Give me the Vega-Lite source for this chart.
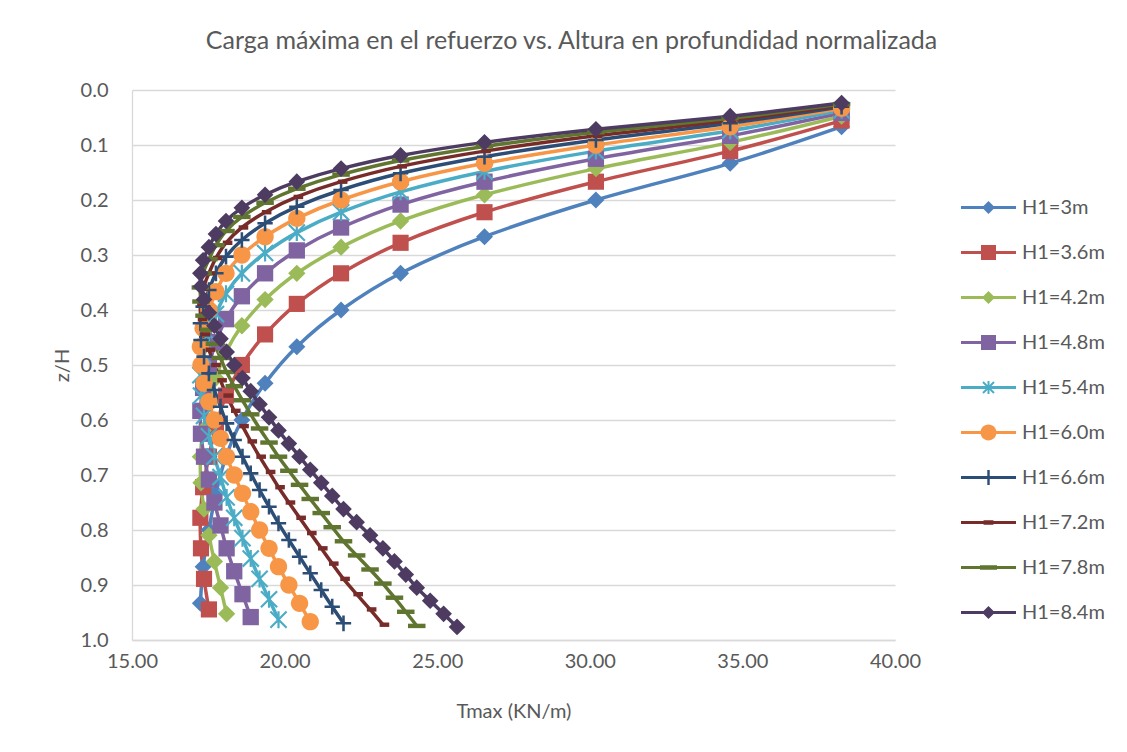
{
  "$schema": "https://vega.github.io/schema/vega-lite/v6.json",
  "width": 763,
  "height": 550,
  "autosize": {"type": "none"},
  "padding": {"left": 132, "top": 90, "right": 232, "bottom": 112},
  "background": "white",
  "title": {
    "text": "Carga máxima en el refuerzo vs. Altura en profundidad normalizada",
    "font": "Lato",
    "fontSize": 25,
    "fontWeight": "normal",
    "color": "#595959",
    "anchor": "middle",
    "baseline": "alphabetic",
    "dx": 58,
    "offset": 6
  },
  "config": {
    "view": {"stroke": null},
    "font": "Lato",
    "axis": {
      "labelFont": "Lato",
      "labelFontSize": 20,
      "labelColor": "#595959",
      "labelFlush": false,
      "titleFont": "Lato",
      "titleFontSize": 20,
      "titleFontWeight": "normal",
      "titleColor": "#595959",
      "ticks": false,
      "tickSize": 0,
      "domainColor": "#D9D9D9",
      "domainWidth": 1.3,
      "gridColor": "#D9D9D9",
      "gridWidth": 1.3
    }
  },
  "data": {
    "values": [
      {"s": "H1=3m", "zh": 0.0667, "t": 38.25},
      {"s": "H1=3m", "zh": 0.1333, "t": 34.6},
      {"s": "H1=3m", "zh": 0.2, "t": 30.2},
      {"s": "H1=3m", "zh": 0.2667, "t": 26.55},
      {"s": "H1=3m", "zh": 0.3333, "t": 23.8},
      {"s": "H1=3m", "zh": 0.4, "t": 21.85},
      {"s": "H1=3m", "zh": 0.4667, "t": 20.4},
      {"s": "H1=3m", "zh": 0.5333, "t": 19.36},
      {"s": "H1=3m", "zh": 0.6, "t": 18.6},
      {"s": "H1=3m", "zh": 0.6667, "t": 18.08},
      {"s": "H1=3m", "zh": 0.7333, "t": 17.75},
      {"s": "H1=3m", "zh": 0.8, "t": 17.52},
      {"s": "H1=3m", "zh": 0.8667, "t": 17.33},
      {"s": "H1=3m", "zh": 0.9333, "t": 17.24},

      {"s": "H1=3.6m", "zh": 0.0556, "t": 38.25},
      {"s": "H1=3.6m", "zh": 0.1111, "t": 34.6},
      {"s": "H1=3.6m", "zh": 0.1667, "t": 30.2},
      {"s": "H1=3.6m", "zh": 0.2222, "t": 26.55},
      {"s": "H1=3.6m", "zh": 0.2778, "t": 23.8},
      {"s": "H1=3.6m", "zh": 0.3333, "t": 21.85},
      {"s": "H1=3.6m", "zh": 0.3889, "t": 20.4},
      {"s": "H1=3.6m", "zh": 0.4444, "t": 19.36},
      {"s": "H1=3.6m", "zh": 0.5, "t": 18.6},
      {"s": "H1=3.6m", "zh": 0.5556, "t": 18.08},
      {"s": "H1=3.6m", "zh": 0.6111, "t": 17.75},
      {"s": "H1=3.6m", "zh": 0.6667, "t": 17.52},
      {"s": "H1=3.6m", "zh": 0.7222, "t": 17.33},
      {"s": "H1=3.6m", "zh": 0.7778, "t": 17.24},
      {"s": "H1=3.6m", "zh": 0.8333, "t": 17.26},
      {"s": "H1=3.6m", "zh": 0.8889, "t": 17.36},
      {"s": "H1=3.6m", "zh": 0.9444, "t": 17.52},

      {"s": "H1=4.2m", "zh": 0.0476, "t": 38.25},
      {"s": "H1=4.2m", "zh": 0.0952, "t": 34.6},
      {"s": "H1=4.2m", "zh": 0.1429, "t": 30.2},
      {"s": "H1=4.2m", "zh": 0.1905, "t": 26.55},
      {"s": "H1=4.2m", "zh": 0.2381, "t": 23.8},
      {"s": "H1=4.2m", "zh": 0.2857, "t": 21.85},
      {"s": "H1=4.2m", "zh": 0.3333, "t": 20.4},
      {"s": "H1=4.2m", "zh": 0.381, "t": 19.36},
      {"s": "H1=4.2m", "zh": 0.4286, "t": 18.6},
      {"s": "H1=4.2m", "zh": 0.4762, "t": 18.08},
      {"s": "H1=4.2m", "zh": 0.5238, "t": 17.75},
      {"s": "H1=4.2m", "zh": 0.5714, "t": 17.52},
      {"s": "H1=4.2m", "zh": 0.619, "t": 17.33},
      {"s": "H1=4.2m", "zh": 0.6667, "t": 17.24},
      {"s": "H1=4.2m", "zh": 0.7143, "t": 17.26},
      {"s": "H1=4.2m", "zh": 0.7619, "t": 17.36},
      {"s": "H1=4.2m", "zh": 0.8095, "t": 17.52},
      {"s": "H1=4.2m", "zh": 0.8571, "t": 17.7},
      {"s": "H1=4.2m", "zh": 0.9048, "t": 17.9},
      {"s": "H1=4.2m", "zh": 0.9524, "t": 18.1},

      {"s": "H1=4.8m", "zh": 0.0417, "t": 38.25},
      {"s": "H1=4.8m", "zh": 0.0833, "t": 34.6},
      {"s": "H1=4.8m", "zh": 0.125, "t": 30.2},
      {"s": "H1=4.8m", "zh": 0.1667, "t": 26.55},
      {"s": "H1=4.8m", "zh": 0.2083, "t": 23.8},
      {"s": "H1=4.8m", "zh": 0.25, "t": 21.85},
      {"s": "H1=4.8m", "zh": 0.2917, "t": 20.4},
      {"s": "H1=4.8m", "zh": 0.3333, "t": 19.36},
      {"s": "H1=4.8m", "zh": 0.375, "t": 18.6},
      {"s": "H1=4.8m", "zh": 0.4167, "t": 18.08},
      {"s": "H1=4.8m", "zh": 0.4583, "t": 17.75},
      {"s": "H1=4.8m", "zh": 0.5, "t": 17.52},
      {"s": "H1=4.8m", "zh": 0.5417, "t": 17.33},
      {"s": "H1=4.8m", "zh": 0.5833, "t": 17.24},
      {"s": "H1=4.8m", "zh": 0.625, "t": 17.26},
      {"s": "H1=4.8m", "zh": 0.6667, "t": 17.36},
      {"s": "H1=4.8m", "zh": 0.7083, "t": 17.52},
      {"s": "H1=4.8m", "zh": 0.75, "t": 17.7},
      {"s": "H1=4.8m", "zh": 0.7917, "t": 17.9},
      {"s": "H1=4.8m", "zh": 0.8333, "t": 18.1},
      {"s": "H1=4.8m", "zh": 0.875, "t": 18.35},
      {"s": "H1=4.8m", "zh": 0.9167, "t": 18.62},
      {"s": "H1=4.8m", "zh": 0.9583, "t": 18.89},

      {"s": "H1=5.4m", "zh": 0.037, "t": 38.25},
      {"s": "H1=5.4m", "zh": 0.0741, "t": 34.6},
      {"s": "H1=5.4m", "zh": 0.1111, "t": 30.2},
      {"s": "H1=5.4m", "zh": 0.1481, "t": 26.55},
      {"s": "H1=5.4m", "zh": 0.1852, "t": 23.8},
      {"s": "H1=5.4m", "zh": 0.2222, "t": 21.85},
      {"s": "H1=5.4m", "zh": 0.2593, "t": 20.4},
      {"s": "H1=5.4m", "zh": 0.2963, "t": 19.36},
      {"s": "H1=5.4m", "zh": 0.3333, "t": 18.6},
      {"s": "H1=5.4m", "zh": 0.3704, "t": 18.08},
      {"s": "H1=5.4m", "zh": 0.4074, "t": 17.75},
      {"s": "H1=5.4m", "zh": 0.4444, "t": 17.52},
      {"s": "H1=5.4m", "zh": 0.4815, "t": 17.33},
      {"s": "H1=5.4m", "zh": 0.5185, "t": 17.24},
      {"s": "H1=5.4m", "zh": 0.5556, "t": 17.26},
      {"s": "H1=5.4m", "zh": 0.5926, "t": 17.36},
      {"s": "H1=5.4m", "zh": 0.6296, "t": 17.52},
      {"s": "H1=5.4m", "zh": 0.6667, "t": 17.7},
      {"s": "H1=5.4m", "zh": 0.7037, "t": 17.9},
      {"s": "H1=5.4m", "zh": 0.7407, "t": 18.1},
      {"s": "H1=5.4m", "zh": 0.7778, "t": 18.35},
      {"s": "H1=5.4m", "zh": 0.8148, "t": 18.62},
      {"s": "H1=5.4m", "zh": 0.8519, "t": 18.89},
      {"s": "H1=5.4m", "zh": 0.8889, "t": 19.18},
      {"s": "H1=5.4m", "zh": 0.9259, "t": 19.49},
      {"s": "H1=5.4m", "zh": 0.963, "t": 19.8},

      {"s": "H1=6.0m", "zh": 0.0333, "t": 38.25},
      {"s": "H1=6.0m", "zh": 0.0667, "t": 34.6},
      {"s": "H1=6.0m", "zh": 0.1, "t": 30.2},
      {"s": "H1=6.0m", "zh": 0.1333, "t": 26.55},
      {"s": "H1=6.0m", "zh": 0.1667, "t": 23.8},
      {"s": "H1=6.0m", "zh": 0.2, "t": 21.85},
      {"s": "H1=6.0m", "zh": 0.2333, "t": 20.4},
      {"s": "H1=6.0m", "zh": 0.2667, "t": 19.36},
      {"s": "H1=6.0m", "zh": 0.3, "t": 18.6},
      {"s": "H1=6.0m", "zh": 0.3333, "t": 18.08},
      {"s": "H1=6.0m", "zh": 0.3667, "t": 17.75},
      {"s": "H1=6.0m", "zh": 0.4, "t": 17.52},
      {"s": "H1=6.0m", "zh": 0.4333, "t": 17.33},
      {"s": "H1=6.0m", "zh": 0.4667, "t": 17.24},
      {"s": "H1=6.0m", "zh": 0.5, "t": 17.26},
      {"s": "H1=6.0m", "zh": 0.5333, "t": 17.36},
      {"s": "H1=6.0m", "zh": 0.5667, "t": 17.52},
      {"s": "H1=6.0m", "zh": 0.6, "t": 17.7},
      {"s": "H1=6.0m", "zh": 0.6333, "t": 17.9},
      {"s": "H1=6.0m", "zh": 0.6667, "t": 18.1},
      {"s": "H1=6.0m", "zh": 0.7, "t": 18.35},
      {"s": "H1=6.0m", "zh": 0.7333, "t": 18.62},
      {"s": "H1=6.0m", "zh": 0.7667, "t": 18.89},
      {"s": "H1=6.0m", "zh": 0.8, "t": 19.18},
      {"s": "H1=6.0m", "zh": 0.8333, "t": 19.49},
      {"s": "H1=6.0m", "zh": 0.8667, "t": 19.8},
      {"s": "H1=6.0m", "zh": 0.9, "t": 20.14},
      {"s": "H1=6.0m", "zh": 0.9333, "t": 20.49},
      {"s": "H1=6.0m", "zh": 0.9667, "t": 20.84},

      {"s": "H1=6.6m", "zh": 0.0303, "t": 38.25},
      {"s": "H1=6.6m", "zh": 0.0606, "t": 34.6},
      {"s": "H1=6.6m", "zh": 0.0909, "t": 30.2},
      {"s": "H1=6.6m", "zh": 0.1212, "t": 26.55},
      {"s": "H1=6.6m", "zh": 0.1515, "t": 23.8},
      {"s": "H1=6.6m", "zh": 0.1818, "t": 21.85},
      {"s": "H1=6.6m", "zh": 0.2121, "t": 20.4},
      {"s": "H1=6.6m", "zh": 0.2424, "t": 19.36},
      {"s": "H1=6.6m", "zh": 0.2727, "t": 18.6},
      {"s": "H1=6.6m", "zh": 0.303, "t": 18.08},
      {"s": "H1=6.6m", "zh": 0.3333, "t": 17.75},
      {"s": "H1=6.6m", "zh": 0.3636, "t": 17.52},
      {"s": "H1=6.6m", "zh": 0.3939, "t": 17.33},
      {"s": "H1=6.6m", "zh": 0.4242, "t": 17.24},
      {"s": "H1=6.6m", "zh": 0.4545, "t": 17.26},
      {"s": "H1=6.6m", "zh": 0.4848, "t": 17.36},
      {"s": "H1=6.6m", "zh": 0.5152, "t": 17.52},
      {"s": "H1=6.6m", "zh": 0.5455, "t": 17.7},
      {"s": "H1=6.6m", "zh": 0.5758, "t": 17.9},
      {"s": "H1=6.6m", "zh": 0.6061, "t": 18.1},
      {"s": "H1=6.6m", "zh": 0.6364, "t": 18.35},
      {"s": "H1=6.6m", "zh": 0.6667, "t": 18.62},
      {"s": "H1=6.6m", "zh": 0.697, "t": 18.89},
      {"s": "H1=6.6m", "zh": 0.7273, "t": 19.18},
      {"s": "H1=6.6m", "zh": 0.7576, "t": 19.49},
      {"s": "H1=6.6m", "zh": 0.7879, "t": 19.8},
      {"s": "H1=6.6m", "zh": 0.8182, "t": 20.14},
      {"s": "H1=6.6m", "zh": 0.8485, "t": 20.49},
      {"s": "H1=6.6m", "zh": 0.8788, "t": 20.84},
      {"s": "H1=6.6m", "zh": 0.9091, "t": 21.2},
      {"s": "H1=6.6m", "zh": 0.9394, "t": 21.56},
      {"s": "H1=6.6m", "zh": 0.9697, "t": 21.93},

      {"s": "H1=7.2m", "zh": 0.0278, "t": 38.25},
      {"s": "H1=7.2m", "zh": 0.0556, "t": 34.6},
      {"s": "H1=7.2m", "zh": 0.0833, "t": 30.2},
      {"s": "H1=7.2m", "zh": 0.1111, "t": 26.55},
      {"s": "H1=7.2m", "zh": 0.1389, "t": 23.8},
      {"s": "H1=7.2m", "zh": 0.1667, "t": 21.85},
      {"s": "H1=7.2m", "zh": 0.1944, "t": 20.4},
      {"s": "H1=7.2m", "zh": 0.2222, "t": 19.36},
      {"s": "H1=7.2m", "zh": 0.25, "t": 18.6},
      {"s": "H1=7.2m", "zh": 0.2778, "t": 18.08},
      {"s": "H1=7.2m", "zh": 0.3056, "t": 17.75},
      {"s": "H1=7.2m", "zh": 0.3333, "t": 17.52},
      {"s": "H1=7.2m", "zh": 0.3611, "t": 17.33},
      {"s": "H1=7.2m", "zh": 0.3889, "t": 17.24},
      {"s": "H1=7.2m", "zh": 0.4167, "t": 17.26},
      {"s": "H1=7.2m", "zh": 0.4444, "t": 17.36},
      {"s": "H1=7.2m", "zh": 0.4722, "t": 17.52},
      {"s": "H1=7.2m", "zh": 0.5, "t": 17.7},
      {"s": "H1=7.2m", "zh": 0.5278, "t": 17.9},
      {"s": "H1=7.2m", "zh": 0.5556, "t": 18.1},
      {"s": "H1=7.2m", "zh": 0.5833, "t": 18.35},
      {"s": "H1=7.2m", "zh": 0.6111, "t": 18.62},
      {"s": "H1=7.2m", "zh": 0.6389, "t": 18.89},
      {"s": "H1=7.2m", "zh": 0.6667, "t": 19.18},
      {"s": "H1=7.2m", "zh": 0.6944, "t": 19.49},
      {"s": "H1=7.2m", "zh": 0.7222, "t": 19.8},
      {"s": "H1=7.2m", "zh": 0.75, "t": 20.14},
      {"s": "H1=7.2m", "zh": 0.7778, "t": 20.49},
      {"s": "H1=7.2m", "zh": 0.8056, "t": 20.84},
      {"s": "H1=7.2m", "zh": 0.8333, "t": 21.2},
      {"s": "H1=7.2m", "zh": 0.8611, "t": 21.56},
      {"s": "H1=7.2m", "zh": 0.8889, "t": 21.93},
      {"s": "H1=7.2m", "zh": 0.9167, "t": 22.36},
      {"s": "H1=7.2m", "zh": 0.9444, "t": 22.8},
      {"s": "H1=7.2m", "zh": 0.9722, "t": 23.22},

      {"s": "H1=7.8m", "zh": 0.0256, "t": 38.25},
      {"s": "H1=7.8m", "zh": 0.0513, "t": 34.6},
      {"s": "H1=7.8m", "zh": 0.0769, "t": 30.2},
      {"s": "H1=7.8m", "zh": 0.1026, "t": 26.55},
      {"s": "H1=7.8m", "zh": 0.1282, "t": 23.8},
      {"s": "H1=7.8m", "zh": 0.1538, "t": 21.85},
      {"s": "H1=7.8m", "zh": 0.1795, "t": 20.4},
      {"s": "H1=7.8m", "zh": 0.2051, "t": 19.36},
      {"s": "H1=7.8m", "zh": 0.2308, "t": 18.6},
      {"s": "H1=7.8m", "zh": 0.2564, "t": 18.08},
      {"s": "H1=7.8m", "zh": 0.2821, "t": 17.75},
      {"s": "H1=7.8m", "zh": 0.3077, "t": 17.52},
      {"s": "H1=7.8m", "zh": 0.3333, "t": 17.33},
      {"s": "H1=7.8m", "zh": 0.359, "t": 17.24},
      {"s": "H1=7.8m", "zh": 0.3846, "t": 17.26},
      {"s": "H1=7.8m", "zh": 0.4103, "t": 17.36},
      {"s": "H1=7.8m", "zh": 0.4359, "t": 17.52},
      {"s": "H1=7.8m", "zh": 0.4615, "t": 17.7},
      {"s": "H1=7.8m", "zh": 0.4872, "t": 17.9},
      {"s": "H1=7.8m", "zh": 0.5128, "t": 18.1},
      {"s": "H1=7.8m", "zh": 0.5385, "t": 18.35},
      {"s": "H1=7.8m", "zh": 0.5641, "t": 18.62},
      {"s": "H1=7.8m", "zh": 0.5897, "t": 18.89},
      {"s": "H1=7.8m", "zh": 0.6154, "t": 19.18},
      {"s": "H1=7.8m", "zh": 0.641, "t": 19.49},
      {"s": "H1=7.8m", "zh": 0.6667, "t": 19.8},
      {"s": "H1=7.8m", "zh": 0.6923, "t": 20.14},
      {"s": "H1=7.8m", "zh": 0.7179, "t": 20.49},
      {"s": "H1=7.8m", "zh": 0.7436, "t": 20.84},
      {"s": "H1=7.8m", "zh": 0.7692, "t": 21.2},
      {"s": "H1=7.8m", "zh": 0.7949, "t": 21.56},
      {"s": "H1=7.8m", "zh": 0.8205, "t": 21.93},
      {"s": "H1=7.8m", "zh": 0.8462, "t": 22.36},
      {"s": "H1=7.8m", "zh": 0.8718, "t": 22.8},
      {"s": "H1=7.8m", "zh": 0.8974, "t": 23.22},
      {"s": "H1=7.8m", "zh": 0.9231, "t": 23.6},
      {"s": "H1=7.8m", "zh": 0.9487, "t": 23.97},
      {"s": "H1=7.8m", "zh": 0.9744, "t": 24.33},

      {"s": "H1=8.4m", "zh": 0.0238, "t": 38.25},
      {"s": "H1=8.4m", "zh": 0.0476, "t": 34.6},
      {"s": "H1=8.4m", "zh": 0.0714, "t": 30.2},
      {"s": "H1=8.4m", "zh": 0.0952, "t": 26.55},
      {"s": "H1=8.4m", "zh": 0.119, "t": 23.8},
      {"s": "H1=8.4m", "zh": 0.1429, "t": 21.85},
      {"s": "H1=8.4m", "zh": 0.1667, "t": 20.4},
      {"s": "H1=8.4m", "zh": 0.1905, "t": 19.36},
      {"s": "H1=8.4m", "zh": 0.2143, "t": 18.6},
      {"s": "H1=8.4m", "zh": 0.2381, "t": 18.08},
      {"s": "H1=8.4m", "zh": 0.2619, "t": 17.75},
      {"s": "H1=8.4m", "zh": 0.2857, "t": 17.52},
      {"s": "H1=8.4m", "zh": 0.3095, "t": 17.33},
      {"s": "H1=8.4m", "zh": 0.3333, "t": 17.24},
      {"s": "H1=8.4m", "zh": 0.3571, "t": 17.26},
      {"s": "H1=8.4m", "zh": 0.381, "t": 17.36},
      {"s": "H1=8.4m", "zh": 0.4048, "t": 17.52},
      {"s": "H1=8.4m", "zh": 0.4286, "t": 17.7},
      {"s": "H1=8.4m", "zh": 0.4524, "t": 17.9},
      {"s": "H1=8.4m", "zh": 0.4762, "t": 18.1},
      {"s": "H1=8.4m", "zh": 0.5, "t": 18.35},
      {"s": "H1=8.4m", "zh": 0.5238, "t": 18.62},
      {"s": "H1=8.4m", "zh": 0.5476, "t": 18.89},
      {"s": "H1=8.4m", "zh": 0.5714, "t": 19.18},
      {"s": "H1=8.4m", "zh": 0.5952, "t": 19.49},
      {"s": "H1=8.4m", "zh": 0.619, "t": 19.8},
      {"s": "H1=8.4m", "zh": 0.6429, "t": 20.14},
      {"s": "H1=8.4m", "zh": 0.6667, "t": 20.49},
      {"s": "H1=8.4m", "zh": 0.6905, "t": 20.84},
      {"s": "H1=8.4m", "zh": 0.7143, "t": 21.2},
      {"s": "H1=8.4m", "zh": 0.7381, "t": 21.56},
      {"s": "H1=8.4m", "zh": 0.7619, "t": 21.93},
      {"s": "H1=8.4m", "zh": 0.7857, "t": 22.36},
      {"s": "H1=8.4m", "zh": 0.8095, "t": 22.8},
      {"s": "H1=8.4m", "zh": 0.8333, "t": 23.22},
      {"s": "H1=8.4m", "zh": 0.8571, "t": 23.6},
      {"s": "H1=8.4m", "zh": 0.881, "t": 23.97},
      {"s": "H1=8.4m", "zh": 0.9048, "t": 24.33},
      {"s": "H1=8.4m", "zh": 0.9286, "t": 24.77},
      {"s": "H1=8.4m", "zh": 0.9524, "t": 25.21},
      {"s": "H1=8.4m", "zh": 0.9762, "t": 25.65}
    ]
  },
  "encoding": {
    "x": {
      "field": "t",
      "type": "quantitative",
      "scale": {"domain": [15, 40], "nice": false, "zero": false},
      "axis": {
        "values": [15, 20, 25, 30, 35, 40],
        "format": ".2f",
        "title": "Tmax (KN/m)",
        "grid": false,
        "labelPadding": 11,
        "titlePadding": 30
      }
    },
    "y": {
      "field": "zh",
      "type": "quantitative",
      "scale": {"domain": [0, 1], "reverse": true, "nice": false, "zero": false},
      "axis": {
        "values": [0, 0.1, 0.2, 0.3, 0.4, 0.5, 0.6, 0.7, 0.8, 0.9, 1],
        "format": ".1f",
        "title": "z/H",
        "grid": true,
        "labelPadding": 24,
        "titlePadding": 8
      }
    }
  },
  "layer": [
    {
      "mark": {"type": "line", "interpolate": "cardinal", "strokeWidth": 3.5},
      "encoding": {
        "color": {
          "field": "s",
          "type": "nominal",
          "scale": {
            "domain": ["H1=3m", "H1=3.6m", "H1=4.2m", "H1=4.8m", "H1=5.4m", "H1=6.0m", "H1=6.6m", "H1=7.2m", "H1=7.8m", "H1=8.4m"],
            "range": ["#4F81BD", "#C0504D", "#9BBB59", "#8064A2", "#4BACC6", "#F79646", "#2C4D75", "#772C2A", "#5F7530", "#4D3B62"]
          },
          "legend": null
        },
        "order": {"field": "zh", "type": "quantitative"}
      }
    },
    {
      "mark": {"type": "point", "filled": true, "opacity": 1, "size": 289},
      "encoding": {
        "color": {
          "field": "s",
          "type": "nominal",
          "scale": {
            "domain": ["H1=3m", "H1=3.6m", "H1=4.2m", "H1=4.8m", "H1=5.4m", "H1=6.0m", "H1=6.6m", "H1=7.2m", "H1=7.8m", "H1=8.4m"],
            "range": ["#4F81BD", "#C0504D", "#9BBB59", "#8064A2", "#4BACC6", "#F79646", "#2C4D75", "#772C2A", "#5F7530", "#4D3B62"]
          },
          "legend": null
        },
        "shape": {
          "field": "s",
          "type": "nominal",
          "scale": {
            "domain": ["H1=3m", "H1=3.6m", "H1=4.2m", "H1=4.8m", "H1=5.4m", "H1=6.0m", "H1=6.6m", "H1=7.2m", "H1=7.8m", "H1=8.4m"],
            "range": [
              "M0,-1L1,0L0,1L-1,0Z",
              "M-0.95,-0.95H0.95V0.95H-0.95Z",
              "M0,-1.02L1.02,0L0,1.02L-1.02,0Z",
              "M-0.96,-0.96H0.96V0.96H-0.96Z",
              "M-0.13,-1H0.13V1H-0.13Z M-0.86,-1.04L1.04,0.86L0.86,1.04L-1.04,-0.86Z M1.04,-0.86L-0.86,1.04L-1.04,0.86L0.86,-1.04Z",
              "M-1.02,0A1.02,1.02,0,1,1,1.02,0A1.02,1.02,0,1,1,-1.02,0Z",
              "M-0.15,-0.92H0.15V0.92H-0.15Z M-0.9,-0.15H0.9V0.15H-0.9Z",
              "M-0.38,-0.26H0.75V0.26H-0.38Z",
              "M-1.03,-0.26H1.03V0.26H-1.03Z",
              "M0,-0.98L0.98,0L0,0.98L-0.98,0Z"
            ]
          },
          "legend": null
        }
      }
    },
    {
      "data": {"values": []},
      "mark": {"type": "point", "filled": true, "opacity": 1, "size": 3025},
      "encoding": {
        "color": {
          "field": "s",
          "type": "nominal",
          "scale": {
            "domain": ["H1=3m", "H1=3.6m", "H1=4.2m", "H1=4.8m", "H1=5.4m", "H1=6.0m", "H1=6.6m", "H1=7.2m", "H1=7.8m", "H1=8.4m"],
            "range": ["#4F81BD", "#C0504D", "#9BBB59", "#8064A2", "#4BACC6", "#F79646", "#2C4D75", "#772C2A", "#5F7530", "#4D3B62"]
          },
          "legend": {
            "title": null,
            "orient": "none",
            "legendX": 828,
            "legendY": 89,
            "symbolSize": 3025,
            "labelFont": "Lato",
            "labelFontSize": 20,
            "labelColor": "#595959",
            "labelOffset": 5,
            "rowPadding": 6
          }
        },
        "shape": {
          "field": "s",
          "type": "nominal",
          "scale": {
            "domain": ["H1=3m", "H1=3.6m", "H1=4.2m", "H1=4.8m", "H1=5.4m", "H1=6.0m", "H1=6.6m", "H1=7.2m", "H1=7.8m", "H1=8.4m"],
            "range": [
              "M-1,-0.058H1V0.058H-1Z M0,-0.236L0.236,0L0,0.236L-0.236,0Z",
              "M-1,-0.058H1V0.058H-1Z M-0.273,-0.273H0.273V0.273H-0.273Z",
              "M-1,-0.058H1V0.058H-1Z M0,-0.236L0.236,0L0,0.236L-0.236,0Z",
              "M-1,-0.058H1V0.058H-1Z M-0.273,-0.273H0.273V0.273H-0.273Z",
              "M-1,-0.058H1V0.058H-1Z M-0.036,-0.236H0.036V0.236H-0.036Z M-0.175,-0.225L0.225,0.175L0.175,0.225L-0.225,-0.175Z M0.225,-0.175L-0.175,0.225L-0.225,0.175L0.175,-0.225Z",
              "M-1,-0.058H1V0.058H-1Z M-0.29,0A0.29,0.29,0,1,1,0.29,0A0.29,0.29,0,1,1,-0.29,0Z",
              "M-1,-0.058H1V0.058H-1Z M-0.044,-0.273H0.044V0.273H-0.044Z",
              "M-1,-0.058H1V0.058H-1Z M-0.18,-0.082H0.18V0.082H-0.18Z",
              "M-1,-0.058H1V0.058H-1Z M-0.31,-0.082H0.31V0.082H-0.31Z",
              "M-1,-0.058H1V0.058H-1Z M0,-0.236L0.236,0L0,0.236L-0.236,0Z"
            ]
          },
          "legend": {
            "title": null,
            "orient": "none",
            "legendX": 828,
            "legendY": 89,
            "symbolSize": 3025,
            "labelFont": "Lato",
            "labelFontSize": 20,
            "labelColor": "#595959",
            "labelOffset": 5,
            "rowPadding": 6
          }
        }
      }
    }
  ],
  "resolve": {"scale": {"color": "independent", "shape": "independent"}}
}
